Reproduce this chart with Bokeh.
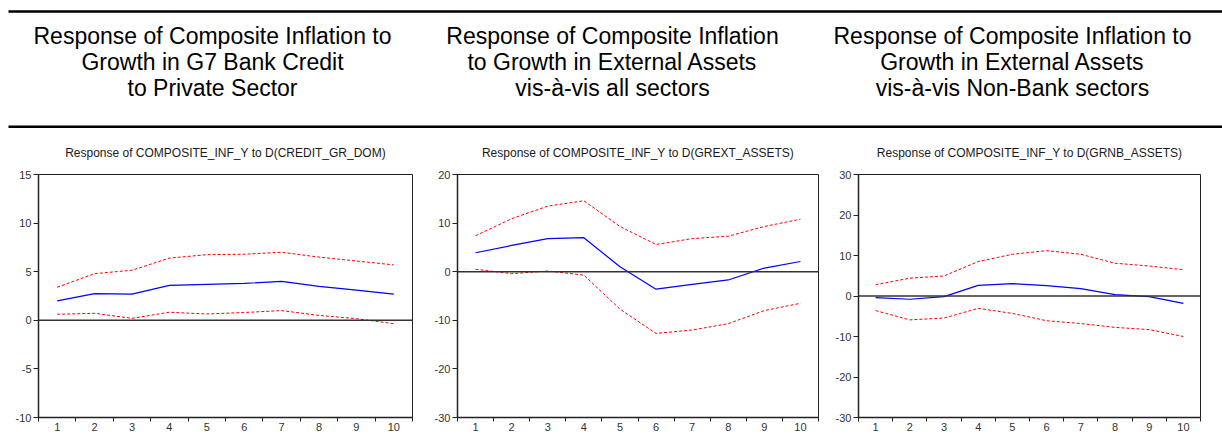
from bokeh.plotting import figure
from bokeh.layouts import column, row
from bokeh.models import Range1d, FixedTicker, Span, ColumnDataSource, PrintfTickFormatter
from bokeh.core.properties import value
from bokeh.embed import file_html
from bokeh.resources import INLINE

# Impulse-response horizon
periods = [1, 2, 3, 4, 5, 6, 7, 8, 9, 10]

# Panel headers
headers = [
    ["Response of Composite Inflation to", "Growth in G7 Bank Credit", "to Private Sector"],
    ["Response of Composite Inflation", "to Growth in External Assets", "vis-\u00e0-vis all sectors"],
    ["Response of Composite Inflation to", "Growth in External Assets", "vis-\u00e0-vis Non-Bank sectors"],
]

titles = [
    "Response of COMPOSITE_INF_Y to D(CREDIT_GR_DOM)",
    "Response of COMPOSITE_INF_Y to D(GREXT_ASSETS)",
    "Response of COMPOSITE_INF_Y to D(GRNB_ASSETS)",
]

# Responses (blue) with +/- 2 S.E. bands (red dashed)
credit_resp = [2.0, 2.75, 2.7, 3.6, 3.7, 3.8, 4.0, 3.5, 3.1, 2.7]
credit_upper = [3.4, 4.8, 5.15, 6.4, 6.75, 6.8, 7.0, 6.5, 6.1, 5.7]
credit_lower = [0.62, 0.72, 0.2, 0.83, 0.65, 0.8, 1.0, 0.5, 0.17, -0.35]

grext_resp = [3.9, 5.4, 6.8, 7.0, 1.0, -3.6, -2.6, -1.7, 0.75, 2.1]
grext_upper = [7.4, 10.9, 13.5, 14.6, 9.3, 5.6, 6.8, 7.3, 9.3, 10.8]
grext_lower = [0.5, -0.4, 0.14, -0.7, -7.7, -12.7, -12.0, -10.7, -8.0, -6.5]

grnb_resp = [-0.4, -0.8, -0.15, 2.64, 3.05, 2.56, 1.8, 0.33, -0.17, -1.8]
grnb_upper = [2.8, 4.4, 4.95, 8.5, 10.3, 11.2, 10.3, 8.1, 7.4, 6.5]
grnb_lower = [-3.6, -5.9, -5.45, -3.05, -4.3, -6.1, -6.8, -7.75, -8.3, -10.0]

y_limits = [(-10, 15), (-30, 20), (-30, 30)]
y_ticks = [[-10, -5, 0, 5, 10, 15], [-30, -20, -10, 0, 10, 20], [-30, -20, -10, 0, 10, 20, 30]]

FONT = "Liberation Sans"
W, H = 1222, 443
HEADER_H = 128

# ---- header band with two rules and three centred multi-line captions ----
hdr = figure(width=W, height=HEADER_H, x_range=Range1d(0, W), y_range=Range1d(HEADER_H, 0),
             output_backend="svg", toolbar_location=None, min_border=0)
hdr.axis.visible = False
hdr.grid.visible = False
hdr.outline_line_color = None

col_centres = [212, 612, 1012]
line_y = [35, 61, 87]
hx, hy, ht = [], [], []
for c, lines in zip(col_centres, headers):
    for yy, t in zip(line_y, lines):
        hx.append(c)
        hy.append(yy)
        ht.append(t)
hdr.text(x=hx, y=hy, text=ht, text_align="center", text_baseline="middle",
         text_font=value(FONT), text_font_size="23px", text_color="#000000")
hdr.segment(x0=[8, 8], y0=[11, 126.3], x1=[W, W], y1=[11, 126.3], line_color="black", line_width=2.5)

# ---- three impulse-response panels ----
series = [
    (credit_resp, credit_upper, credit_lower),
    (grext_resp, grext_upper, grext_lower),
    (grnb_resp, grnb_upper, grnb_lower),
]
# figure width, left border, right border
geom = [(430, 38, 18), (400, 27, 12), (392, 28, 22)]

panels = []
for (resp, up, lo), title, (ymin, ymax), yt, (fw, bl, br) in zip(series, titles, y_limits, y_ticks, geom):
    p = figure(width=fw, height=H - HEADER_H, x_range=Range1d(0.5, 10.5), y_range=Range1d(ymin, ymax),
               output_backend="svg", toolbar_location=None,
               min_border_left=bl, min_border_right=br, min_border_top=46, min_border_bottom=26)
    p.title.text = title
    p.title.align = "center"
    p.title.text_font = FONT
    p.title.text_font_size = "12px"
    p.title.text_font_style = "normal"
    p.title.text_color = "#1a1a1a"
    p.title.standoff = 30
    p.grid.visible = False
    p.outline_line_color = "#222222"
    p.outline_line_width = 1

    src = ColumnDataSource(dict(x=periods, r=resp, u=up, l=lo))
    p.add_layout(Span(location=0, dimension="width", line_color="#333333", line_width=1.5))
    p.line("x", "u", source=src, line_color="#ff0000", line_width=1, line_dash="3 2")
    p.line("x", "l", source=src, line_color="#ff0000", line_width=1, line_dash="3 2")
    p.line("x", "r", source=src, line_color="#0000ff", line_width=1.2)

    xa = p.xaxis[0]
    xa.ticker = FixedTicker(ticks=periods, minor_ticks=[v - 0.5 for v in periods] + [10.5])
    xa.major_tick_out = 0
    xa.major_tick_in = 0
    xa.minor_tick_in = 0
    xa.minor_tick_out = 4
    xa.minor_tick_line_color = "#222222"
    xa.major_label_standoff = 1

    ya = p.yaxis[0]
    ya.ticker = FixedTicker(ticks=yt)
    ya.formatter = PrintfTickFormatter(format="%d")
    ya.major_tick_in = 0
    ya.major_tick_out = 5
    ya.minor_tick_line_color = None
    ya.major_label_standoff = 2

    for ax in (xa, ya):
        ax.axis_line_color = "#222222"
        ax.axis_line_width = 1.5
        ax.major_label_text_font = FONT
        ax.major_label_text_font_size = "11px"
        ax.major_label_text_color = "#333333"
    xa.major_tick_line_color = None
    ya.major_tick_line_color = "#222222"
    panels.append(p)

layout = column(hdr, row(*panels, spacing=0), spacing=0)

with open("out.html", "w") as f:
    f.write(file_html(layout, INLINE))
